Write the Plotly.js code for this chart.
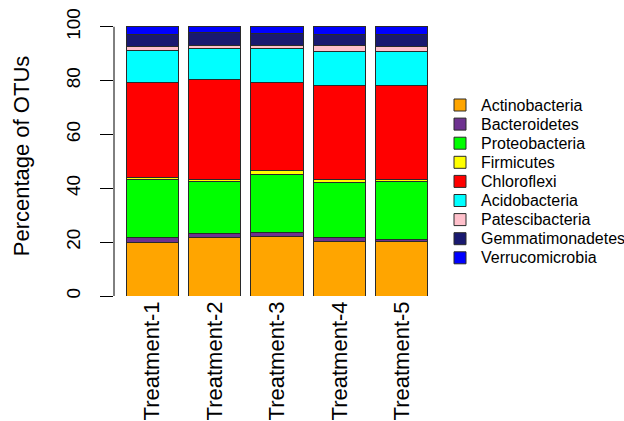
<!DOCTYPE html>
<html>
<head>
<meta charset="utf-8">
<script src="https://cdn.plot.ly/plotly-3.0.1.min.js"></script>
<style>html,body{margin:0;padding:0;background:#fff;}#chart{width:624px;height:421px;}</style>
</head>
<body>
<div id="chart"></div>
<script>
const categories = ["Treatment-1", "Treatment-2", "Treatment-3", "Treatment-4", "Treatment-5"];
const phyla = ["Actinobacteria", "Bacteroidetes", "Proteobacteria", "Firmicutes", "Chloroflexi",
               "Acidobacteria", "Patescibacteria", "Gemmatimonadetes", "Verrucomicrobia"];
const actinobacteria   = [19.8, 21.9, 22.1, 20.2, 20.1];
const bacteroidetes    = [1.8, 1.2, 1.5, 1.4, 1.0];
const proteobacteria   = [21.5, 19.6, 21.4, 20.6, 21.6];
const firmicutes       = [1.0, 0.7, 1.5, 1.0, 0.7];
const chloroflexi      = [35.1, 37.0, 32.9, 35.1, 34.7];
const acidobacteria    = [11.9, 11.7, 12.5, 12.5, 12.9];
const patescibacteria  = [1.7, 0.9, 1.2, 2.2, 1.7];
const gemmatimonadetes = [4.4, 5.0, 4.5, 4.2, 4.35];
const verrucomicrobia  = [2.8, 2.0, 2.5, 2.75, 2.9];
const yTicks = [0, 20, 40, 60, 80, 100];

const series = [actinobacteria, bacteroidetes, proteobacteria, firmicutes, chloroflexi,
                acidobacteria, patescibacteria, gemmatimonadetes, verrucomicrobia];
const colors = ["#FFA500", "#6E3290", "#00FF00", "#FFFF00", "#FF0000",
                "#00FFFF", "#FFC0CB", "#191970", "#0000FF"];

const traces = series.map((vals, i) => ({
  type: "bar",
  name: phyla[i],
  x: categories,
  y: vals,
  marker: { color: colors[i], line: { color: "#2a2a2a", width: 1 } },
  hoverinfo: "name+y",
  showlegend: false
}));

// plot area in pixels (from margins)
const W = 624, H = 421, mL = 114, mR = 184, mT = 16, mB = 125;
const pw = W - mL - mR, ph = H - mT - mB;
const px2x = p => (p - mL) / pw;
const px2y = p => (H - mB - p) / ph;

// manual legend, R style
const legShapes = [], legAnn = [];
phyla.forEach((name, i) => {
  const cy = 105 + 19.1 * i;
  legShapes.push({
    type: "rect", xref: "paper", yref: "paper",
    x0: px2x(454), x1: px2x(466), y0: px2y(cy + 6), y1: px2y(cy - 6),
    fillcolor: colors[i], line: { color: "#2a2a2a", width: 1 }
  });
  legAnn.push({
    xref: "paper", yref: "paper", x: px2x(479), y: px2y(cy),
    xanchor: "left", yanchor: "middle", showarrow: false,
    text: name, font: { size: 16, color: "#000" }
  });
});

const layout = {
  width: W, height: H,
  paper_bgcolor: "#fff", plot_bgcolor: "#fff",
  barmode: "stack",
  bargap: 0.167,
  margin: { l: mL, r: mR, t: mT, b: mB, pad: 0 },
  font: { family: "Liberation Sans, Arial, sans-serif", color: "#000" },
  xaxis: {
    range: [-0.609, 4.609],
    showline: false, zeroline: false, showgrid: false,
    ticks: "", tickangle: -90,
    tickfont: { size: 22 },
    ticklabelstandoff: 0
  },
  yaxis: {
    range: [0, 104],
    showline: false, zeroline: false, showgrid: false,
    tickvals: yTicks, ticktext: yTicks.map(String),
    ticks: "outside", ticklen: 13, tickwidth: 1, tickcolor: "#000",
    tickangle: -90,
    tickfont: { size: 19 },
    ticklabelstandoff: 12,
    title: { text: "Percentage of OTUs", font: { size: 22 }, standoff: 27 }
  },
  shapes: [{
    type: "line", xref: "paper", yref: "y",
    x0: 0, x1: 0, y0: 0, y1: 100,
    line: { color: "#000", width: 1 }
  }].concat(legShapes),
  annotations: legAnn,
  showlegend: false
};

Plotly.newPlot("chart", traces, layout, { displayModeBar: false, staticPlot: true });
</script>
</body>
</html>
